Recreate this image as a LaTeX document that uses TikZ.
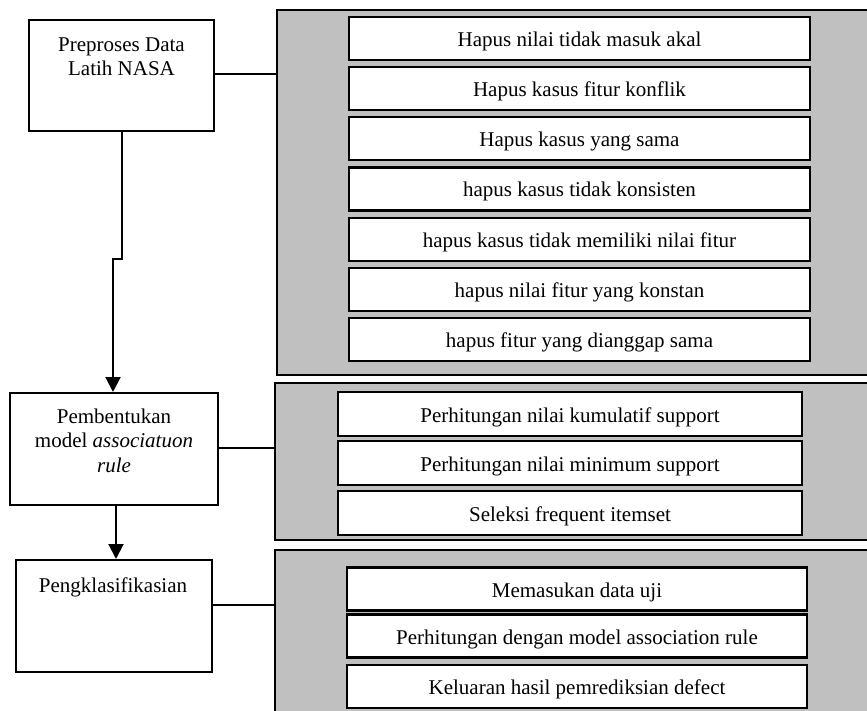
\documentclass[tikz,border=0pt]{standalone}
\usepackage{fontspec}
\setmainfont{Liberation Serif}
\usetikzlibrary{arrows.meta}
\definecolor{panelgray}{HTML}{C0C0C0}
\tikzset{
  box/.style={draw=black, line width=2pt, fill=white, inner sep=0pt},
  panel/.style={draw=black, line width=2pt, fill=panelgray, inner sep=0pt},
  item/.style={draw=black, line width=2.2pt, fill=white, inner sep=0pt, text height=19pt, text depth=3pt},
  lbl/.style={inner sep=0pt, align=center, anchor=north},
  conn/.style={line width=2pt},
  arr/.style={line width=2pt, -{Triangle[length=15pt,width=15pt]}}
}
\begin{document}
\begin{tikzpicture}[x=1pt,y=-1pt,font=\fontsize{21}{24.5}\selectfont]
\useasboundingbox (0,0) rectangle (867,711);
\clip (0,0) rectangle (867,711);
% left boxes
\node[box, minimum width=185pt, minimum height=111pt] (b1) at (121.5,75.5) {};
\node[lbl] (t1) at (121.5,37.5) {Preproses Data\\Latih NASA};
\node[box, minimum width=208pt, minimum height=112pt] (b2) at (114,449) {};
\node[lbl] (t2) at (114,408.5) {Pembentukan\\model \textit{associatuon}\\\textit{rule}};
\node[box, minimum width=196pt, minimum height=112pt] (b3) at (114,616) {};
\node[lbl] (t3) at (113,577.7) {Pengklasifikasian};
% panels
\node[panel, minimum width=603pt, minimum height=365pt] (p1) at (578.5,192.5) {};
\node[panel, minimum width=605pt, minimum height=157pt] (p2) at (577.5,461.5) {};
\node[panel, minimum width=605pt, minimum height=175pt] (p3) at (577.5,637.5) {};
% panel 1 items
\node[item, minimum width=461pt, minimum height=43pt] (a1) at (579.5,38.5) {Hapus nilai tidak masuk akal};
\node[item, minimum width=461pt, minimum height=43pt] (a2) at (579.5,88.7) {Hapus kasus fitur konflik};
\node[item, minimum width=461pt, minimum height=43pt] (a3) at (579.5,138.8) {Hapus kasus yang sama};
\node[item, minimum width=461pt, minimum height=43pt] (a4) at (579.5,189.0) {hapus kasus tidak konsisten};
\node[item, minimum width=461pt, minimum height=43pt] (a5) at (579.5,239.2) {hapus kasus tidak memiliki nilai fitur};
\node[item, minimum width=461pt, minimum height=43pt] (a6) at (579.5,289.3) {hapus nilai fitur yang konstan};
\node[item, minimum width=461pt, minimum height=43pt] (a7) at (579.5,339.5) {hapus fitur yang dianggap sama};
% panel 2 items
\node[item, minimum width=464pt, minimum height=44pt] (c1) at (570,414) {Perhitungan nilai kumulatif support};
\node[item, minimum width=464pt, minimum height=44pt] (c2) at (570,463) {Perhitungan nilai minimum support};
\node[item, minimum width=464pt, minimum height=44pt] (c3) at (570,513) {Seleksi frequent itemset};
% panel 3 items
\node[item, minimum width=460pt, minimum height=43pt] (d1) at (577,589) {Memasukan data uji};
\node[item, minimum width=460pt, minimum height=43pt] (d2) at (577,636) {Perhitungan dengan model association rule};
\node[item, minimum width=460pt, minimum height=43pt] (d3) at (577,686.5) {Keluaran hasil pemrediksian defect};
% connectors
\draw[conn] ([yshift=1.5pt]b1.east) -- ([yshift=1.5pt]b1.east -| p1.west);
\draw[conn] ([yshift=1pt]b2.east) -- ([yshift=1pt]b2.east -| p2.west);
\draw[conn] ([yshift=11pt]b3.east) -- ([yshift=11pt]b3.east -| p3.west);
\coordinate (j1) at (122,259);
\coordinate (j2) at (113,259);
\draw[arr] (b1.south -| j1) -- (j1) -- (j2) -- (j2 |- b2.north);
\coordinate (k1) at (116,0);
\draw[arr] (b2.south -| k1) -- (b3.north -| k1);
\end{tikzpicture}
\end{document}
